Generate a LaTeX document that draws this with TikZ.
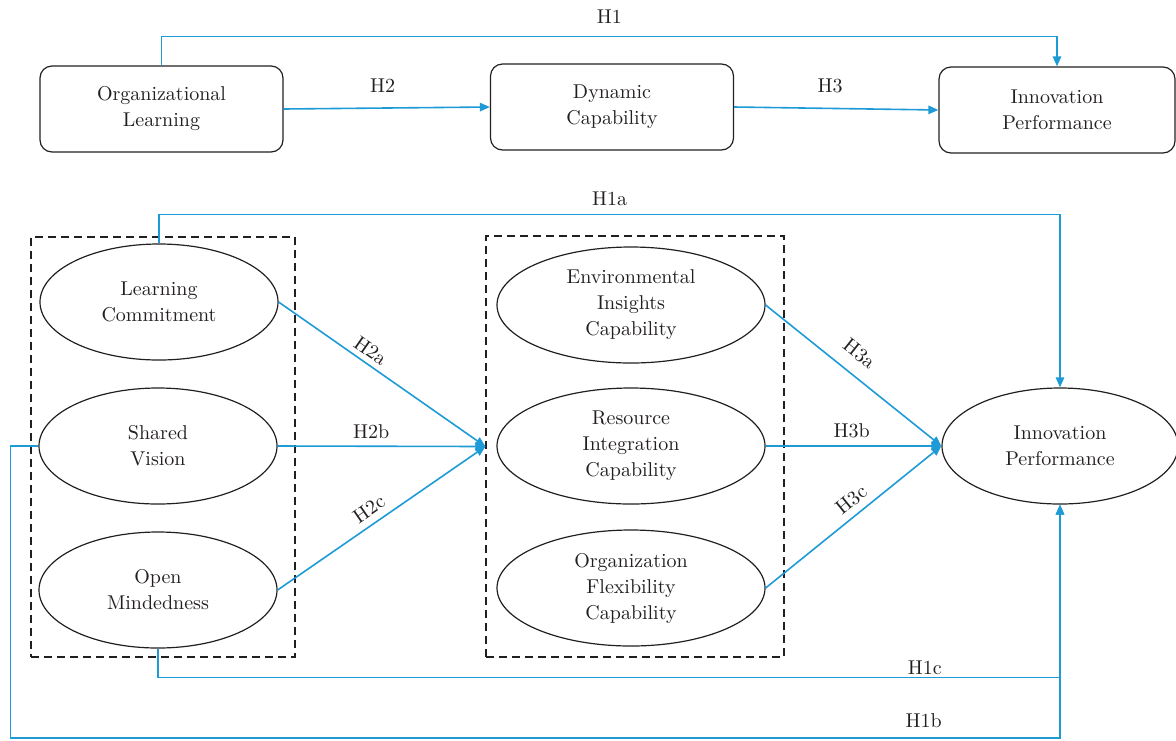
\documentclass[tikz,border=0pt]{standalone}
\usetikzlibrary{arrows.meta,positioning,shapes.geometric}
\definecolor{linkblue}{RGB}{30,155,215}
\definecolor{inkgray}{RGB}{35,31,32}

\begin{document}
\begin{tikzpicture}[
    x=0.5pt, y=-0.5pt,
    font=\fontsize{10}{13}\selectfont,
    arrow/.style={-{Triangle[length=5pt,width=4.2pt]}, draw=linkblue, line width=0.8pt},
    box/.style={draw=inkgray, rounded corners=6pt, line width=0.6pt, text=inkgray, align=center, minimum width=121.5pt, minimum height=43pt},
    oval/.style={draw=inkgray, ellipse, line width=0.6pt, text=inkgray, align=center, inner sep=0pt, minimum width=119pt, minimum height=58pt},
    wideoval/.style={oval, minimum width=134pt},
    group/.style={draw=inkgray, dash pattern=on 4pt off 2.5pt, line width=0.6pt},
    hyp/.style={text=inkgray, inner sep=2pt}
]
\useasboundingbox (0,0) rectangle (1176,740);

% top: overall model
\node[box] (olearn) at (161.5,109) {Organizational\\Learning};
\node[box] (dcap) at (612,107) {Dynamic\\Capability};
\node[box, minimum width=118pt] (iperf) at (1057,110) {Innovation\\Performance};

\draw[arrow] (olearn.north) -- ++(0,-29) -| (iperf.north) node[hyp, pos=0.25, above=4pt] {H1};
\draw[arrow] (olearn.east) -- (dcap.west) node[hyp, pos=0.48, above=5.5pt] {H2};
\draw[arrow] (dcap.east) -- (iperf.west) node[hyp, pos=0.47, above=5.5pt] {H3};

% bottom: dimensions
\node[group, minimum width=132pt, minimum height=210pt] (grpL) at (163,447) {};
\node[group, minimum width=149pt, minimum height=210.5pt] (grpM) at (635,446.5) {};

\node[oval] (lcom) at (159,302) {Learning\\Commitment};
\node[oval] (svis) at (158,446) {Shared\\Vision};
\node[oval] (omind) at (158,590) {Open\\Mindedness};

\node[wideoval] (envins) at (631,305) {Environmental\\Insights\\Capability};
\node[wideoval] (resint) at (631,446) {Resource\\Integration\\Capability};
\node[wideoval] (orgflex) at (631,588) {Organization\\Flexibility\\Capability};

\node[oval, minimum width=118pt] (ipout) at (1060,446) {Innovation\\Performance};

\coordinate (hub) at (grpM.west);

\draw[arrow] (lcom.east) -- (hub) node[hyp, pos=0.41, sloped, above=0.5pt] {H2a};
\draw[arrow] (svis.east) -- (hub) node[hyp, pos=0.45, above=1.5pt] {H2b};
\draw[arrow] (omind.east) -- (hub) node[hyp, pos=0.48, sloped, above=1.5pt] {H2c};

\draw[arrow] (envins.east) -- (ipout.west) node[hyp, pos=0.46, sloped, above=4.5pt] {H3a};
\draw[arrow] (resint.east) -- (ipout.west) node[hyp, pos=0.49, above=1.5pt] {H3b};
\draw[arrow] (orgflex.east) -- (ipout.west) node[hyp, pos=0.54, sloped, above=1.5pt] {H3c};

\draw[arrow] (lcom.north) -- ++(0,-29) -| (ipout.north) node[hyp, pos=0.25, above=2pt] {H1a};
\draw[arrow] (omind.south) -- ++(0,29) -| (ipout.south) node[hyp, pos=0.425, above=-1pt] {H1c};
\draw[arrow] (svis.west) -- ++(-28,0) -- ++(0,292) -| (ipout.south) node[hyp, pos=0.435, above=2.5pt] {H1b};

\end{tikzpicture}
\end{document}
